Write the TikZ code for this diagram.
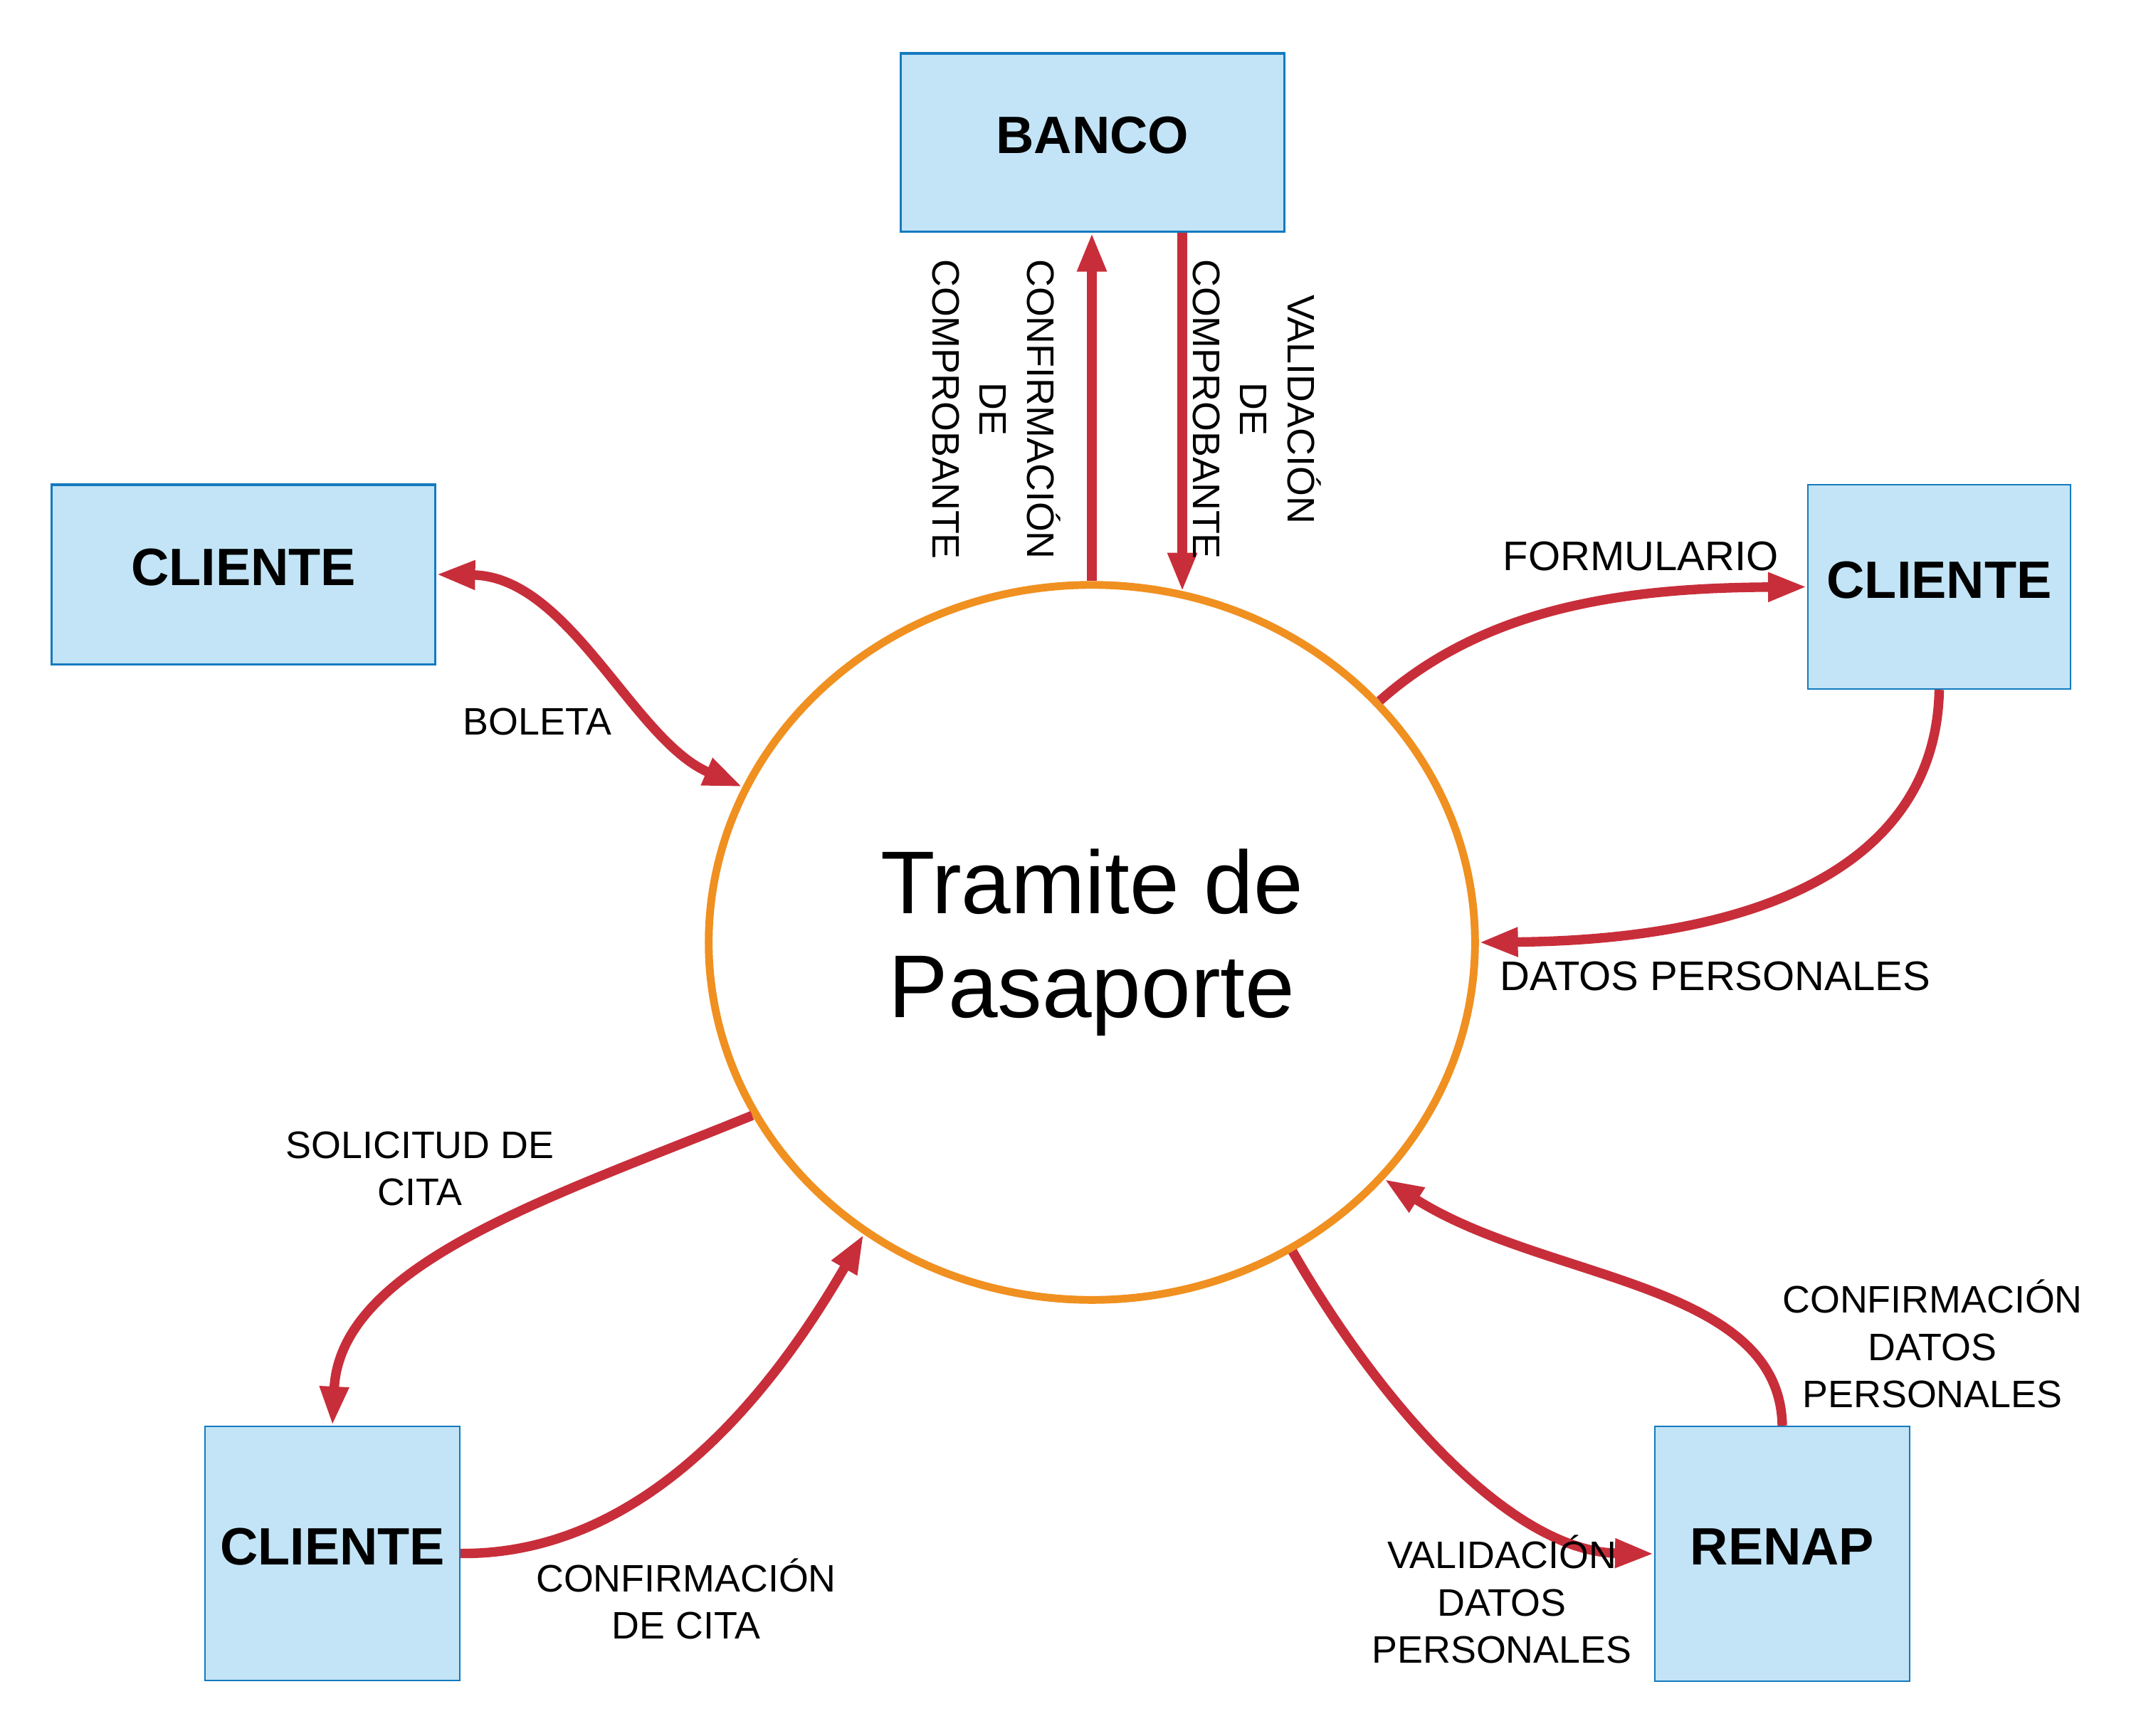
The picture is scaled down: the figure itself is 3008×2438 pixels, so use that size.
\documentclass[tikz,border=0pt]{standalone}
\usepackage{fontspec}
\setmainfont{Liberation Sans}
\usetikzlibrary{arrows.meta,shapes.geometric}
\definecolor{flowred}{RGB}{200,46,58}
\definecolor{ringorange}{RGB}{240,144,32}
\definecolor{boxfill}{RGB}{194,228,246}
\definecolor{boxline}{RGB}{20,122,190}
\begin{document}
\begin{tikzpicture}[x=0.01cm,y=-0.01cm,
  entity/.style={draw=boxline, fill=boxfill, rectangle, inner sep=0pt, line width=0.6pt,
    font=\fontsize{21}{25}\selectfont\bfseries},
  headtip/.tip={Triangle[length=15.6pt,width=10.8pt]},
  flow/.style={draw=flowred, line width=3.8pt, -headtip},
  flowboth/.style={draw=flowred, line width=3.8pt, headtip-headtip},
  flowthick/.style={flow, line width=4.1pt},
  lbl/.style={font=\fontsize{15.3}{18.8}\selectfont, align=center, inner sep=0pt},
  biglbl/.style={lbl, font=\fontsize{16.5}{19.5}\selectfont},
]
\fill[white] (0,0) rectangle (3008,2438);
\useasboundingbox (0,0) rectangle (3008,2438);

% process
\node[ellipse, draw=ringorange, line width=3.1pt, minimum width=10.76cm, minimum height=10.04cm,
  inner sep=0pt, align=center, font=\fontsize{35.6}{41.5}\selectfont] (ell) at (1534,1324) {Tramite de\\Pasaporte};

% entities
\node[entity, line width=0.9pt, minimum width=5.38cm, minimum height=2.50cm] (banco) at (1535,200) {\raisebox{2mm}{BANCO}};
\node[entity, line width=0.9pt, minimum width=5.38cm, minimum height=2.52cm] (cl1) at (342,807) {\raisebox{2mm}{CLIENTE}};
\node[entity, minimum width=3.69cm, minimum height=2.87cm] (cl2) at (2724.5,824.5) {\raisebox{2mm}{CLIENTE}};
\node[entity, minimum width=3.58cm, minimum height=3.57cm] (cl3) at (467,2182.5) {\raisebox{2mm}{CLIENTE}};
\node[entity, minimum width=3.58cm, minimum height=3.58cm] (renap) at (2504,2183) {\raisebox{2mm}{RENAP}};

% flows with BANCO
\draw[flowthick] (ell.north) -- (ell.north |- banco.south);
\coordinate (bdown) at ([xshift=1.26cm]banco.south);
\draw[flowthick] (bdown) -- (bdown |- ell.75.4);

% flows
\draw[flowboth] (cl1.east) .. controls (800,810) and (890,1040) .. (ell.156.3);
\draw[flow] (ell.40) .. controls (2090,850) and (2290,826) .. (cl2.west);
\draw[flow] (cl2.south) .. controls (2720,1200) and (2500,1320) .. (ell.east);
\draw[flow] (ell.207.8) .. controls (780,1680) and (478,1775) .. (cl3.north);
\draw[flow] (cl3.east) .. controls (920,2185) and (1100,1930) .. (ell.232.9);
\draw[flow] (ell.303.9) .. controls (1950,1990) and (2130,2180) .. (renap.west);
\draw[flow] (renap.north) .. controls (2500,1800) and (2170,1800) .. (ell.321.3);

% labels
\node[lbl, rotate=-90] (lconf) at (1400,575) {CONFIRMACIÓN\\DE\\COMPROBANTE};
\node[lbl, rotate=-90] (lvalid) at (1766,575) {VALIDACIÓN\\DE\\COMPROBANTE};
\node[lbl] (lboleta) at (755,1014) {BOLETA};
\node[biglbl] (lform) at (2305,782) {FORMULARIO};
\node[biglbl] (ldatos) at (2410,1371) {DATOS PERSONALES};
\node[lbl] (lsol) at (590,1642) {SOLICITUD DE\\CITA};
\node[lbl] (lconfcita) at (964,2246) {CONFIRMACIÓN\\DE CITA};
\node[lbl] (lvaldat) at (2110,2247) {VALIDACIÓN\\DATOS\\PERSONALES};
\node[lbl] (lconfdat) at (2715,1888) {CONFIRMACIÓN\\DATOS\\PERSONALES};
\end{tikzpicture}
\end{document}
